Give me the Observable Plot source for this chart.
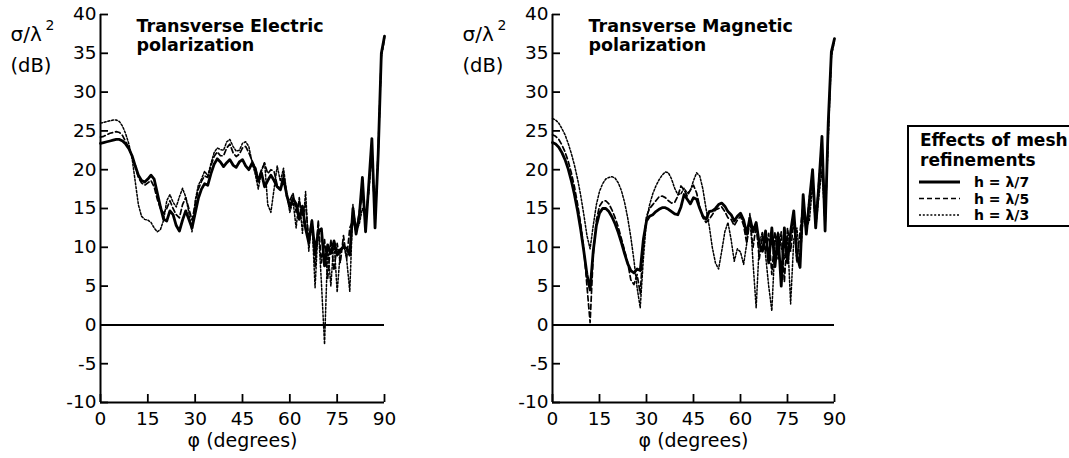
<!DOCTYPE html>
<html>
<head>
<meta charset="utf-8">
<script src="https://cdn.jsdelivr.net/npm/d3@7"></script>
<script src="https://cdn.jsdelivr.net/npm/@observablehq/plot@0.6"></script>
<style>
  body { margin: 0; background: #fff; }
  #wrap { position: relative; width: 1069px; height: 458px; overflow: hidden; background: #fff; font-family: "DejaVu Sans", sans-serif; }
  #left, #right { position: absolute; top: 0; }
  #left { left: 0; }
  #right { left: 420px; }
  #legend { position: absolute; left: 907px; top: 125px; width: 200px; height: 102px; box-sizing: border-box; border: 2px solid #000; background: #fff; }
</style>
</head>
<body>
<div id="wrap">
  <div id="left"></div>
  <div id="right"></div>
  <div id="legend"></div>
</div>
<script>
// ---------------- data ----------------
const xTicks = [0, 15, 30, 45, 60, 75, 90];
const yTicks = [-10, -5, 0, 5, 10, 15, 20, 25, 30, 35, 40];
const xLabel = "φ (degrees)";
const yLabelTop = "σ/λ";
const yLabelSup = "2";
const yLabelUnit = "(dB)";
const titleTE = "Transverse Electric\npolarization";
const titleTM = "Transverse Magnetic\npolarization";
const legendTitle = "Effects of mesh\nrefinements";
const seriesNames = ["h = λ/7", "h = λ/5", "h = λ/3"];

const phi = [0,1,2,3,4,5,6,7,8,9,10,11,12,13,14,15,16,17,18,19,20,21,22,23,24,25,26,27,28,29,
  30,31,32,33,34,35,36,37,38,39,40,41,42,43,44,45,46,47,48,49,50,51,52,53,54,55,56,57,58,59,
  60,61,62,63,64,65,66,67,68,69,70,71,72,73,74,75,76,77,78,79,80,81,82,83,84,85,86,87,88,89,90];

// Transverse Electric
const teH7 = [23.4,23.5,23.6,23.7,23.8,23.9,23.9,23.7,23.3,22.7,
  21.8,20.5,19.3,18.6,18.4,18.8,19.3,18.8,17.0,15.2,
  13.6,13.4,14.7,14.2,12.8,12.1,13.5,14.7,13.6,12.5,
  14.4,16.3,17.5,18.2,18.0,19.5,20.7,21.4,21.0,20.4,
  20.9,21.3,20.6,20.3,21.0,21.3,20.5,20.0,20.8,20.2,
  18.5,19.6,17.8,18.6,19.3,18.6,17.8,17.4,18.9,16.8,
  15.2,16.3,15.6,13.6,15.3,12.4,10.6,13.4,9.3,12.0,
  12.4,7.6,10.3,9.2,10.8,9.0,9.7,10.0,9.9,9.0,
  15.0,11.7,14.0,19.0,12.0,18.0,24.0,12.5,22.0,35.0,
  37.2];
const teH5 = [24.2,24.3,24.5,24.7,24.8,24.9,24.8,24.4,23.6,22.8,
  21.7,20.4,19.0,18.3,18.0,18.3,18.6,17.8,16.2,15.0,
  14.4,15.0,16.0,15.0,14.2,13.8,15.5,16.4,15.0,13.5,
  15.5,17.5,18.5,19.2,19.0,20.5,21.7,22.3,21.8,21.8,
  22.8,23.3,22.2,21.7,22.0,22.8,23.0,22.2,21.2,20.3,
  18.8,20.0,20.8,19.5,20.0,19.8,18.0,17.5,19.5,16.5,
  16.0,17.0,14.5,16.0,14.0,15.5,11.0,13.5,7.5,13.5,
  8.0,11.0,6.0,11.0,7.0,10.5,8.0,11.5,8.5,12.5,
  13.5,12.0,14.5,17.0,13.0,17.5,23.0,13.0,22.5,34.8,
  37.0];
const teH3 = [26.0,26.1,26.2,26.3,26.4,26.4,26.2,25.6,24.6,23.3,
  21.5,18.5,15.5,14.0,13.6,13.5,13.2,12.5,12.0,12.3,
  13.5,16.0,16.8,15.8,15.2,16.5,17.6,16.5,14.5,12.0,
  16.0,18.0,18.8,19.8,19.2,20.8,22.2,22.8,22.6,22.5,
  23.6,23.9,23.0,22.4,22.5,23.4,23.6,23.0,21.0,19.5,
  17.5,19.8,21.0,15.5,14.5,17.5,20.5,18.5,20.2,17.0,
  14.5,16.0,12.5,16.5,11.8,17.2,9.5,13.5,4.8,12.8,
  5.5,-2.5,10.0,5.0,11.0,4.2,9.5,10.5,8.5,4.3,
  15.5,12.0,13.0,15.0,14.0,17.0,22.0,13.5,22.0,34.5,
  36.8];

// Transverse Magnetic
const tmH7 = [23.5,23.3,22.9,22.2,21.3,20.1,18.6,16.8,14.7,12.3,
  9.5,6.5,4.5,9.5,12.8,14.4,15.0,15.0,14.6,13.9,
  13.0,11.9,10.6,9.2,7.9,7.0,6.7,7.2,7.0,11.0,
  13.4,14.0,14.2,14.6,14.9,15.1,15.1,14.9,14.6,14.3,
  14.2,15.2,16.8,16.2,15.6,16.4,16.2,15.0,14.0,13.6,
  14.6,14.7,15.0,15.5,15.7,15.3,14.6,14.2,13.4,14.0,
  14.4,13.5,11.7,13.8,12.0,13.2,10.5,9.5,12.1,8.0,
  12.5,7.5,11.7,5.0,12.5,8.0,12.0,14.7,9.0,7.4,
  16.8,11.7,16.0,20.0,12.5,18.0,24.3,12.1,26.0,35.2,
  36.9];
const tmH5 = [24.5,24.3,23.9,23.2,22.3,21.1,19.6,17.8,15.6,13.0,
  9.8,5.0,0.3,9.0,13.5,15.3,15.9,16.0,15.6,14.8,
  13.8,12.6,11.1,9.6,8.0,5.8,5.2,6.5,4.0,10.5,
  14.0,15.0,15.5,16.0,16.5,16.6,16.4,16.0,15.7,15.8,
  16.6,17.9,17.4,16.6,17.4,18.0,17.0,15.2,13.8,13.2,
  13.6,14.2,14.8,15.0,15.2,14.6,13.8,13.6,12.8,13.5,
  14.0,12.8,10.5,13.5,10.0,12.8,8.5,11.5,9.5,11.8,
  6.5,12.0,8.5,12.0,5.5,12.5,9.5,13.5,8.0,12.0,
  15.5,12.0,16.5,19.0,13.0,18.5,23.5,12.5,25.0,35.0,
  36.8];
const tmH3 = [26.6,26.4,26.0,25.3,24.5,23.4,22.1,20.6,18.8,16.7,
  14.2,11.5,9.8,12.8,15.5,17.2,18.2,18.8,19.0,19.1,
  18.9,18.3,17.3,15.8,13.8,11.3,8.3,4.8,2.2,8.5,
  13.5,15.5,16.9,17.9,18.7,19.3,19.7,19.6,18.8,17.6,
  16.8,16.9,17.6,17.0,17.3,18.6,19.6,19.2,17.5,15.0,
  12.8,10.0,8.0,7.2,9.5,12.0,13.2,11.0,8.2,9.8,
  9.4,7.8,10.5,14.4,8.0,2.2,10.5,12.0,9.0,5.0,
  1.8,10.5,12.0,10.0,8.5,11.5,2.7,11.0,12.5,8.0,
  14.0,12.5,13.5,18.0,12.5,16.5,20.0,13.0,24.0,34.5,
  36.6];

// ---------------- styles ----------------
const lineStyles = [
  {strokeWidth: 2.8, strokeDasharray: null},
  {strokeWidth: 1.7, strokeDasharray: "5,3"},
  {strokeWidth: 1.5, strokeDasharray: "2,1.8"}
];

function rows(arr) { return phi.map((p, i) => ({phi: p, db: arr[i]})); }

function panel(title, series, marginLeft, innerWidth, totalWidth) {
  const lines = [];
  for (let k = series.length - 1; k >= 0; k--) {
    lines.push(Plot.line(rows(series[k]), {
      x: "phi", y: "db", stroke: "black",
      strokeWidth: lineStyles[k].strokeWidth,
      strokeDasharray: lineStyles[k].strokeDasharray,
      strokeLinejoin: "round"
    }));
  }
  return Plot.plot({
    width: totalWidth, height: 458,
    marginLeft, marginRight: totalWidth - marginLeft - innerWidth,
    marginTop: 14, marginBottom: 56,
    style: {fontFamily: "DejaVu Sans, sans-serif", fontSize: "18px", color: "black", background: "transparent", overflow: "visible"},
    x: {domain: [0, 90], axis: null},
    y: {domain: [-10, 40], axis: null},
    marks: [
      Plot.ruleY([0], {stroke: "black", strokeWidth: 2}),
      ...lines,
      Plot.ruleX([0], {stroke: "black", strokeWidth: 2}),
      Plot.ruleY([-10], {stroke: "black", strokeWidth: 2}),
      Plot.axisX({ticks: xTicks, tickSize: 8, dy: -8, tickFormat: () => "", label: null, strokeWidth: 1.8}),
      Plot.axisX({ticks: xTicks, tickSize: 0, tickPadding: 9, tickFormat: d => String(d), label: null, fontSize: 18.5}),
      Plot.axisY({ticks: yTicks, tickSize: 8, dx: 8, tickFormat: () => "", label: null, strokeWidth: 1.8}),
      Plot.axisY({ticks: yTicks, tickSize: 0, tickPadding: 4, tickFormat: d => String(d), label: null, fontSize: 18.5}),
      Plot.text([title], {text: d => d, frameAnchor: "top-left", dx: 36, dy: 4, lineAnchor: "top", textAnchor: "start", fontWeight: "bold", fontSize: 17.5, lineHeight: 1.1}),
      Plot.text([yLabelTop], {text: d => d, frameAnchor: "top-left", dx: -90, dy: 12, lineAnchor: "top", textAnchor: "start", fontSize: 20}),
      Plot.text([yLabelSup], {text: d => d, frameAnchor: "top-left", dx: -55, dy: 6, lineAnchor: "top", textAnchor: "start", fontSize: 14}),
      Plot.text([yLabelUnit], {text: d => d, frameAnchor: "top-left", dx: -90, dy: 44, lineAnchor: "top", textAnchor: "start", fontSize: 19.5}),
      Plot.text([xLabel], {text: d => d, frameAnchor: "bottom", dy: 31, lineAnchor: "top", textAnchor: "middle", fontSize: 19})
    ]
  });
}

document.getElementById("left").appendChild(panel(titleTE, [teH7, teH5, teH3], 100, 284, 420));
document.getElementById("right").appendChild(panel(titleTM, [tmH7, tmH5, tmH3], 132, 282, 450));

// ---------------- legend ----------------
const lg = d3.select("#legend").append("svg").attr("width", 196).attr("height", 98)
  .style("font-family", "DejaVu Sans, sans-serif");
legendTitle.split("\n").forEach((t, i) => {
  lg.append("text").attr("x", 11).attr("y", 19 + i * 20).attr("font-weight", "bold").attr("font-size", 17).text(t);
});
seriesNames.forEach((name, i) => {
  const y = 55 + i * 16.5;
  lg.append("line").attr("x1", 10).attr("x2", 51).attr("y1", y).attr("y2", y)
    .attr("stroke", "black").attr("stroke-width", lineStyles[i].strokeWidth)
    .attr("stroke-dasharray", lineStyles[i].strokeDasharray);
  lg.append("text").attr("x", 65).attr("y", y + 5).attr("font-weight", "bold").attr("font-size", 14).text(name);
});
</script>
</body>
</html>
